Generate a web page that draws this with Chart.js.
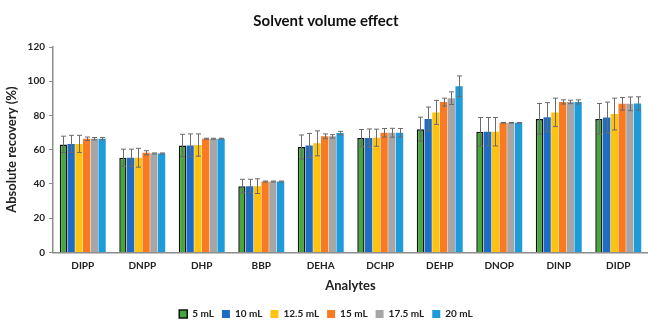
<!DOCTYPE html>
<html>
<head>
    <meta charset="UTF-8">
    <title>Solvent volume effect</title>
    <script src="https://cdn.jsdelivr.net/npm/chart.js"></script>
    <style>
        html, body { margin: 0; padding: 0; background: #fff; }
        #wrap { width: 648px; height: 320px; }
    </style>
</head>
<body>
    <div id="wrap"><canvas id="chartSolvent"></canvas></div>
    <script>
        // Data
        const analytes = ['DIPP', 'DNPP', 'DHP', 'BBP', 'DEHA', 'DCHP', 'DEHP', 'DNOP', 'DINP', 'DIDP'];
        const seriesNames = ['5 mL', '10 mL', '12.5 mL', '15 mL', '17.5 mL', '20 mL'];

        const v5   = [63.1, 55.3, 62.5, 38.7, 61.6, 66.8, 72.0, 70.5, 78.0, 78.0];
        const v10  = [63.4, 55.3, 62.5, 38.7, 62.5, 66.8, 77.9, 70.5, 79.0, 78.8];
        const v125 = [63.4, 55.3, 62.7, 38.7, 63.7, 67.0, 81.8, 70.5, 81.8, 80.8];
        const v15  = [66.4, 58.2, 66.4, 41.4, 67.8, 69.9, 87.8, 75.7, 87.9, 86.8];
        const v175 = [66.4, 57.8, 66.4, 41.4, 67.8, 69.9, 90.1, 75.7, 87.9, 86.8];
        const v20  = [66.4, 57.8, 66.4, 41.4, 69.7, 69.9, 97.1, 75.7, 87.9, 87.0];

        const e5   = [4.8, 5.0, 6.5, 4.0, 7.0, 5.0, 7.0, 8.3, 9.0, 9.0];
        const e10  = [5.0, 5.0, 6.7, 4.0, 7.0, 5.3, 7.0, 8.3, 8.5, 9.0];
        const e125 = [5.0, 5.5, 6.5, 4.3, 7.3, 5.0, 7.0, 8.3, 8.3, 9.3];
        const e15  = [1.0, 1.2, 0.3, 0.3, 1.4, 2.5, 2.3, 0.2, 1.2, 3.7];
        const e175 = [0.7, 0.3, 0.3, 0.3, 1.0, 2.6, 3.7, 0.2, 1.0, 4.0];
        const e20  = [0.7, 0.3, 0.3, 0.3, 1.0, 2.5, 6.0, 0.2, 1.2, 3.9];

        const yTicks = [0, 20, 40, 60, 80, 100, 120];

        const colors = ['#45A83A', '#1C6DC3', '#FFC20E', '#FA7A22', '#A6A6A6', '#1E9BDA'];
        const values = [v5, v10, v125, v15, v175, v20];
        const errors = [e5, e10, e125, e15, e175, e20];

        const FONT = 'Lato, "Open Sans", sans-serif';

        // Draws the error bars using the chart's own y scale
        const errorBars = {
            id: 'errorBars',
            afterDatasetsDraw(chart) {
                const ctx = chart.ctx;
                const y = chart.scales.y;
                ctx.save();
                ctx.strokeStyle = '#6b6b6b';
                ctx.lineWidth = 1;
                chart.data.datasets.forEach((ds, i) => {
                    const meta = chart.getDatasetMeta(i);
                    meta.data.forEach((bar, j) => {
                        const err = ds.errors[j];
                        const val = ds.data[j];
                        const top = y.getPixelForValue(val + err);
                        const bot = y.getPixelForValue(val - err);
                        const x = Math.round(bar.x) + 0.5;
                        ctx.beginPath();
                        ctx.moveTo(x, top); ctx.lineTo(x, bot);
                        ctx.moveTo(x - 2.5, top); ctx.lineTo(x + 2.5, top);
                        ctx.moveTo(x - 2.5, bot); ctx.lineTo(x + 2.5, bot);
                        ctx.stroke();
                    });
                });
                ctx.restore();
            }
        };

        const datasets = seriesNames.map((name, i) => ({
            label: name,
            data: values[i],
            errors: errors[i],
            backgroundColor: colors[i],
            borderColor: i === 0 ? '#111111' : colors[i],
            borderWidth: i === 0 ? 1.5 : 0,
            categoryPercentage: 0.78,
            barPercentage: 0.94
        }));

        new Chart(document.getElementById('chartSolvent').getContext('2d'), {
            type: 'bar',
            data: { labels: analytes, datasets: datasets },
            plugins: [errorBars],
            options: {
                responsive: true,
                maintainAspectRatio: false,
                animation: false,
                layout: { padding: { left: 4, right: 0, top: 4, bottom: -9 } },
                plugins: {
                    tooltip: { enabled: false },
                    title: {
                        display: true,
                        text: 'Solvent volume effect',
                        color: '#111',
                        font: { family: FONT, size: 15, weight: 'bold' },
                        padding: { top: 8, bottom: 17 }
                    },
                    legend: {
                        position: 'bottom',
                        labels: {
                            color: '#222',
                            font: { family: FONT, size: 10, weight: 'bold' },
                            boxWidth: 8,
                            boxHeight: 8,
                            padding: 8,
                            generateLabels(chart) {
                                return chart.data.datasets.map((ds, i) => ({
                                    text: ds.label,
                                    fillStyle: ds.backgroundColor,
                                    strokeStyle: i === 0 ? '#111' : ds.backgroundColor,
                                    lineWidth: i === 0 ? 1.5 : 0,
                                    datasetIndex: i,
                                    fontColor: '#222'
                                }));
                            }
                        }
                    }
                },
                scales: {
                    x: {
                        grid: { display: false, drawTicks: false },
                        border: { display: true, color: '#8c8c8c', width: 1.5 },
                        ticks: { color: '#222', font: { family: FONT, size: 10, weight: 'bold', lineHeight: 1 }, padding: 8 },
                        title: {
                            display: true,
                            text: 'Analytes',
                            color: '#222',
                            font: { family: FONT, size: 13, weight: 'bold' },
                            padding: { top: 0, bottom: 7 }
                        }
                    },
                    y: {
                        min: 0,
                        max: 120,
                        afterBuildTicks(scale) {
                            scale.ticks = yTicks.map(v => ({ value: v }));
                        },
                        grid: { drawOnChartArea: false, drawTicks: true, tickLength: 4, color: '#8c8c8c' },
                        border: { display: true, color: '#8c8c8c', width: 1.5 },
                        ticks: { color: '#222', font: { family: FONT, size: 10, weight: 'bold' }, padding: 4 },
                        title: {
                            display: true,
                            text: 'Absolute recovery (%)',
                            color: '#222',
                            font: { family: FONT, size: 13, weight: 'bold' },
                            padding: { top: 0, bottom: 4 }
                        }
                    }
                }
            }
        });
    </script>
</body>
</html>
